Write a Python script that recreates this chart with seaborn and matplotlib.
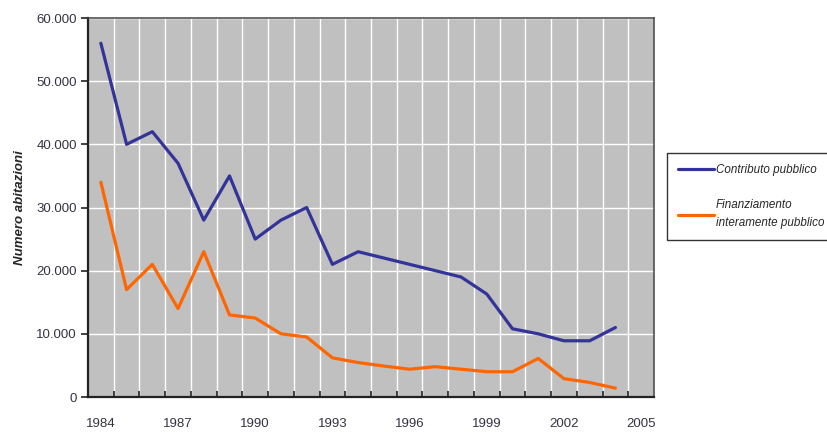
import matplotlib
matplotlib.use("Agg")
import matplotlib.pyplot as plt
import matplotlib.ticker as mticker
import numpy as np
import pandas as pd
import seaborn as sns

years = list(range(1984, 2005))
contributo = [56000, 40000, 42000, 37000, 28000, 35000, 25000, 28000, 30000, 21000,
              23000, 22000, 21000, 20000, 19000, 16300, 10800, 10000, 8900, 8900, 11000]
finanziamento = [34000, 17000, 21000, 14000, 23000, 13000, 12500, 10000, 9500, 6200,
                 5450, 4900, 4400, 4800, 4400, 4000, 4000, 6100, 2900, 2300, 1400]
series_names = ["Contributo pubblico", "Finanziamento\ninteramente pubblico"]
year_labels = list(range(1984, 2006, 3))

df = pd.DataFrame({
    "anno": years * 2,
    "abitazioni": contributo + finanziamento,
    "serie": [series_names[0]] * len(years) + [series_names[1]] * len(years),
})

sns.set_theme(style="darkgrid", rc={
    "axes.facecolor": "#C0C0C0",
    "grid.color": "white",
    "grid.linewidth": 1.0,
    "figure.facecolor": "white",
})
plt.rcParams["font.family"] = ["Liberation Sans", "DejaVu Sans"]

fig = plt.figure(figsize=(8.28, 4.32), dpi=100)
ax = fig.add_axes([88 / 828, 1 - 397 / 432, (654 - 88) / 828, (397 - 18) / 432])

sns.lineplot(data=df, x="anno", y="abitazioni", hue="serie",
             palette=["#333399", "#FF6600"], linewidth=2.3, ax=ax, legend=True)

ax.set_xlim(1983.5, 2005.5)
ax.set_ylim(0, 60000)
ax.set_xticks(year_labels)
ax.set_xticks(np.arange(1984.5, 2005.5, 1), minor=True)
ax.set_yticks(range(0, 60001, 10000))
ax.yaxis.set_major_formatter(mticker.FuncFormatter(lambda v, p: f"{int(v):,}".replace(",", ".")))

ax.grid(False)
ax.xaxis.grid(True, which="minor", color="white", linewidth=1.0)
ax.yaxis.grid(True, which="major", color="white", linewidth=1.0)

ax.tick_params(axis="x", which="major", length=0, pad=15, labelsize=9.5, labelcolor="#333344")
ax.tick_params(axis="x", which="minor", direction="in", length=4, width=1.2, color="#222222", bottom=True)
ax.tick_params(axis="y", which="major", direction="out", length=5, width=1.2, color="#222222",
               left=True, pad=3, labelsize=9.5, labelcolor="#333344")

for side in ["left", "bottom"]:
    ax.spines[side].set_visible(True)
    ax.spines[side].set_color("#222222")
    ax.spines[side].set_linewidth(1.6)
for side in ["top", "right"]:
    ax.spines[side].set_visible(True)
    ax.spines[side].set_color("#444444")
    ax.spines[side].set_linewidth(1.1)

ax.set_xlabel("")
ax.set_ylabel("Numero abitazioni", fontsize=9.5, fontweight="bold", fontstyle="italic")
ax.yaxis.set_label_coords(-0.11, 0.5)

handles, labels = ax.get_legend_handles_labels()
leg = ax.legend(handles, labels, loc="upper left", bbox_to_anchor=(667 / 828, 1 - 153 / 432),
                bbox_transform=fig.transFigure, frameon=True, fancybox=False,
                edgecolor="#333333", facecolor="white", framealpha=1,
                prop={"style": "italic", "size": 8.4}, handlelength=3.1, handletextpad=0.15,
                labelspacing=2.0, borderpad=0.95, borderaxespad=0)
leg.get_frame().set_linewidth(1.0)
for t in leg.get_texts():
    t.set_linespacing(1.6)

fig.savefig("out.png", dpi=100)
